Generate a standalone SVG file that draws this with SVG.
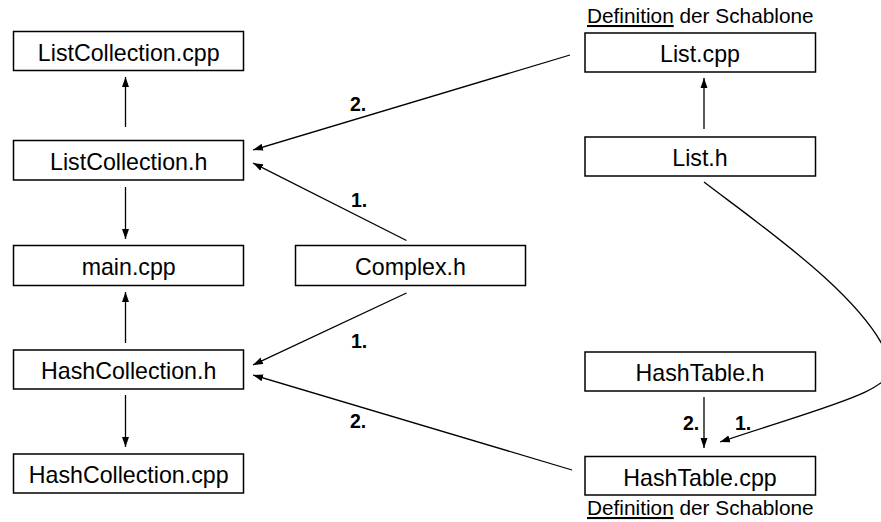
<svg xmlns="http://www.w3.org/2000/svg" width="881" height="522" viewBox="0 0 881 522">
<style>
.box{fill:#fff;stroke:#000;stroke-width:1.5}
.t{font-family:"Liberation Sans",Arial,sans-serif;font-size:23.2px;text-anchor:middle;fill:#000}
.lbl{font-family:"Liberation Sans",Arial,sans-serif;font-size:19.5px;font-weight:bold;fill:#000}
.note{font-family:"Liberation Sans",Arial,sans-serif;font-size:20.8px;fill:#000}
.c{fill:none;stroke:#000;stroke-width:1.3;marker-end:url(#ah)}
</style>
<defs>
<marker id="ah" markerUnits="userSpaceOnUse" markerWidth="11" markerHeight="8" refX="10" refY="4" orient="auto">
<path d="M0,0.5 L10,4 L0,7.5 z" fill="#000"/>
</marker>
</defs>
<rect width="881" height="522" fill="#fff"/>
<g id="connectors">
<line class="c" x1="125.5" y1="127" x2="125.5" y2="77"/>
<line class="c" x1="125.5" y1="187" x2="125.5" y2="239"/>
<line class="c" x1="125.5" y1="343" x2="125.5" y2="292"/>
<line class="c" x1="125.5" y1="395" x2="125.5" y2="447"/>
<line class="c" x1="704" y1="129" x2="704" y2="78"/>
<line class="c" x1="704" y1="397" x2="704" y2="448"/>
<line class="c" x1="570" y1="55" x2="253" y2="150"/>
<line class="c" x1="406.5" y1="240.5" x2="253" y2="163"/>
<line class="c" x1="406.5" y1="293" x2="253" y2="365"/>
<line class="c" x1="572" y1="470" x2="253" y2="375"/>
<path class="c" d="M704,182 C760,225 870,300 890,362 C900,390 830,405 720,442"/>
<text class="lbl" x="350" y="111">2.</text>
<text class="lbl" x="351" y="207">1.</text>
<text class="lbl" x="351" y="348">1.</text>
<text class="lbl" x="350" y="428">2.</text>
<text class="lbl" x="683" y="430">2.</text>
<text class="lbl" x="735" y="430">1.</text>
</g>
<g id="ListCollection_cpp"><rect class="box" x="13.5" y="31.5" width="230" height="39"/><text class="t" x="128.7" y="60.5">ListCollection.cpp</text></g>
<g id="ListCollection_h"><rect class="box" x="13.5" y="140.5" width="230" height="39.5"/><text class="t" x="128.7" y="169.5">ListCollection.h</text></g>
<g id="main_cpp"><rect class="box" x="13.5" y="245.5" width="230" height="40"/><text class="t" x="128.7" y="274.5">main.cpp</text></g>
<g id="HashCollection_h"><rect class="box" x="13.5" y="350" width="230" height="39"/><text class="t" x="128.7" y="379">HashCollection.h</text></g>
<g id="HashCollection_cpp"><rect class="box" x="13.5" y="454" width="230" height="39"/><text class="t" x="128.7" y="483">HashCollection.cpp</text></g>
<g id="Complex_h"><rect class="box" x="295.5" y="245.5" width="230" height="40"/><text class="t" x="410.5" y="274.5">Complex.h</text></g>
<g id="List_cpp"><rect class="box" x="585" y="33" width="230.5" height="39"/><text class="t" x="700" y="62">List.cpp</text><text class="note" x="587" y="23"><tspan text-decoration="underline">Definition</tspan> der Schablone</text></g>
<g id="List_h"><rect class="box" x="585" y="137" width="230.5" height="39"/><text class="t" x="700" y="166">List.h</text></g>
<g id="HashTable_h"><rect class="box" x="585" y="352" width="230.5" height="39"/><text class="t" x="700" y="381">HashTable.h</text></g>
<g id="HashTable_cpp"><rect class="box" x="585" y="456.5" width="230.5" height="38.5"/><text class="t" x="700" y="485.5">HashTable.cpp</text><text class="note" x="587" y="515"><tspan text-decoration="underline">Definition</tspan> der Schablone</text></g>
</svg>
